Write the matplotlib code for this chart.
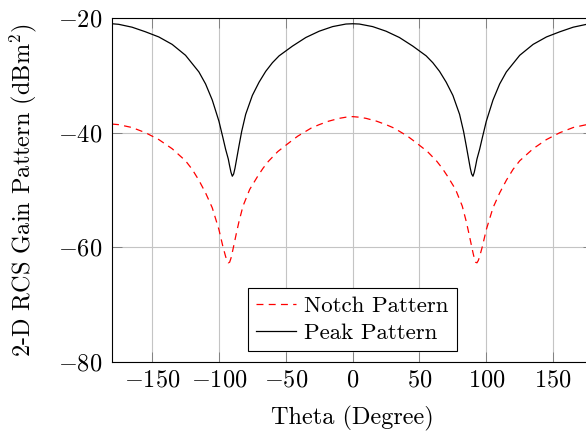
#!/usr/bin/env python

import matplotlib
matplotlib.use('Agg')
import matplotlib.pyplot as plt

plt.rcParams['font.family'] = 'serif'
plt.rcParams['font.serif'] = ['cmr10']
plt.rcParams['mathtext.fontset'] = 'cm'
plt.rcParams['axes.formatter.use_mathtext'] = True
plt.rcParams['lines.scale_dashes'] = False

##########################################

peak_theta = [-180, -175, -165, -155, -145, -135, -125, -115, -110, -105, -100, -97, -95, -93, -92, -91,
              -90, -89, -88, -87, -86, -85, -83, -80, -75, -70, -65, -60, -55, -45, -35, -25, -15, -5,
              0, 5, 15, 25, 35, 45, 55, 60, 65, 70, 75, 80, 83, 85, 86, 87, 88, 89,
              90, 91, 92, 93, 95, 97, 100, 105, 110, 115, 125, 135, 145, 155, 165, 175, 180]
peak_gain = [-21.0, -21.1, -21.6, -22.4, -23.3, -24.6, -26.5, -29.4, -31.5, -34.3, -38.0, -40.9, -42.9, -44.6, -45.8, -46.9,
             -47.6, -47.2, -46.2, -44.9, -43.6, -42.3, -39.8, -36.8, -33.5, -31.2, -29.3, -27.8, -26.6, -24.9, -23.4, -22.3, -21.5, -21.05,
             -21.0, -21.05, -21.5, -22.3, -23.4, -24.9, -26.6, -27.8, -29.3, -31.2, -33.5, -36.8, -39.8, -42.3, -43.6, -44.9, -46.2, -47.2,
             -47.6, -46.9, -45.8, -44.6, -42.9, -40.9, -38.0, -34.3, -31.5, -29.4, -26.5, -24.6, -23.3, -22.4, -21.6, -21.1, -21.0]

notch_theta = [-180, -175, -165, -155, -145, -135, -125, -120, -115, -110, -105, -100, -97, -95, -94, -93, -92,
               -91, -90, -89, -87, -85, -82, -77, -71, -67, -63, -56, -50, -45, -41, -36, -31, -25, -18, -10, -5,
               0, 5, 10, 18, 25, 31, 36, 41, 45, 50, 56, 63, 67, 71, 77, 82, 85, 87, 89, 90, 91,
               92, 93, 94, 95, 97, 100, 105, 110, 115, 120, 125, 135, 145, 155, 165, 175, 180]
notch_gain = [-38.5, -38.6, -39.1, -40.0, -41.2, -42.8, -44.9, -46.4, -48.3, -50.5, -53.1, -56.9, -59.9, -61.6, -62.3, -62.7, -62.6,
              -61.9, -60.9, -59.8, -57.6, -55.5, -52.8, -49.9, -47.6, -46.2, -45.0, -43.3, -42.2, -41.3, -40.6, -39.9, -39.2, -38.6, -38.0, -37.5, -37.3,
              -37.2, -37.3, -37.5, -38.0, -38.6, -39.2, -39.9, -40.6, -41.3, -42.2, -43.3, -45.0, -46.2, -47.6, -49.9, -52.8, -55.5, -57.6, -59.8, -60.9, -61.9,
              -62.6, -62.7, -62.3, -61.6, -59.9, -56.9, -53.1, -50.5, -48.3, -46.4, -44.9, -42.8, -41.2, -40.0, -39.1, -38.6, -38.5]

x_ticks = [-150, -100, -50, 0, 50, 100, 150]
y_ticks = [-80, -60, -40, -20]

fs = 17.5

fig = plt.figure(figsize=(5.86, 4.34), dpi=100)
# right edge of the axes falls just outside the picture, as in the reference
ax = fig.add_axes([0.1911, 0.1659, 0.8213, 0.7926])

ax.plot(notch_theta, notch_gain, color='red', linestyle=(0, (5, 3.8)), linewidth=0.9, label='Notch Pattern')
ax.plot(peak_theta, peak_gain, color='black', linewidth=0.9, label='Peak Pattern')

ax.set_xlim([-180, 180])
ax.set_ylim([-80, -20])
ax.set_xticks(x_ticks)
ax.set_yticks(y_ticks)
ax.grid(color='#c4c4c4', linewidth=0.8)
ax.set_axisbelow(True)
ax.tick_params(direction='in', length=7, width=0.6, color='#777777', labelsize=fs,
               top=True, right=True)
ax.tick_params(axis='x', pad=5)
ax.tick_params(axis='y', pad=7)
for s in ax.spines.values():
    s.set_linewidth(0.8)

ax.set_xlabel('Theta (Degree)', fontsize=fs, labelpad=11)
ax.set_ylabel(r'2-D RCS Gain Pattern (dBm$^2$)', fontsize=fs, labelpad=13.5)

leg = ax.legend(loc='lower center', bbox_to_anchor=(0.5, 0.032), fontsize=16.5, fancybox=False,
                edgecolor='black', framealpha=1, handlelength=1.75, handletextpad=0.35,
                borderpad=0.35, labelspacing=0.3, borderaxespad=0)
leg.get_frame().set_linewidth(0.8)

plt.savefig('out.png', dpi=100)
plt.close('all')
